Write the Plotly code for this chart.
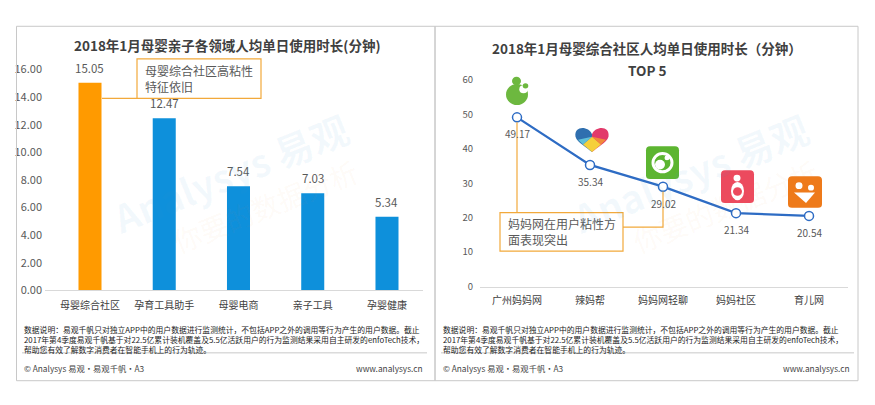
import plotly.graph_objects as go

W, H = 875, 405

# ---------------- data ----------------
left_title = "2018年1月母婴亲子各领域人均单日使用时长(分钟)"
left_categories = ["母婴综合社区", "孕育工具助手", "母婴电商", "亲子工具", "孕婴健康"]
left_values = [15.05, 12.47, 7.54, 7.03, 5.34]
left_yticks = [0, 2, 4, 6, 8, 10, 12, 14, 16]
left_note = "母婴综合社区高粘性<br>特征依旧"

right_title = "2018年1月母婴综合社区人均单日使用时长（分钟）"
right_subtitle = "TOP 5"
right_categories = ["广州妈妈网", "辣妈帮", "妈妈网轻聊", "妈妈社区", "育儿网"]
right_values = [49.17, 35.34, 29.02, 21.34, 20.54]
right_yticks = [0, 10, 20, 30, 40, 50, 60]
right_note = "妈妈网在用户粘性方<br>面表现突出"

footer_lines = [
    "数据说明：易观千帆只对独立APP中的用户数据进行监测统计，不包括APP之外的调用等行为产生的用户数据。截止",
    "2017年第4季度易观千帆基于对22.5亿累计装机覆盖及5.5亿活跃用户的行为监测结果采用自主研发的enfoTech技术，",
    "帮助您有效了解数字消费者在智能手机上的行为轨迹。",
]
footer_left = "© Analysys 易观·易观千帆·A3"
footer_right = "www.analysys.cn"

FONT = "Noto Sans CJK SC"
ORANGE = "#FF9A00"
BLUE = "#0E90DB"
LINE_BLUE = "#2E6CC4"
NOTE_ORANGE = "#F2A93B"
GRAY = "#595959"
DARK = "#404040"


def px(x):
    return x / W


def py(y):
    return 1 - y / H


fig = go.Figure()

bar_colors = [ORANGE] + [BLUE] * (len(left_values) - 1)
fig.add_trace(go.Bar(
    x=left_categories, y=left_values, marker=dict(color=bar_colors, line=dict(width=0)),
    width=0.31, xaxis="x", yaxis="y", showlegend=False, hoverinfo="skip",
))

fig.add_trace(go.Scatter(
    x=right_categories, y=right_values, mode="lines+markers",
    line=dict(color=LINE_BLUE, width=2.3),
    marker=dict(size=9, color="white", line=dict(color=LINE_BLUE, width=1.5)),
    xaxis="x2", yaxis="y2", showlegend=False, hoverinfo="skip",
))

annotations = []
shapes = []


def note(x, y, text, size, color, xa="center", ya="middle", **kw):
    d = dict(x=px(x), y=py(y), xref="paper", yref="paper", text=text, showarrow=False,
             xanchor=xa, yanchor=ya, font=dict(family=FONT, size=size, color=color))
    d.update(kw)
    annotations.append(d)


# bar value labels
for c, v in zip(left_categories, left_values):
    annotations.append(dict(x=c, y=v, xref="x", yref="y", text=f"{v:.2f}", showarrow=False,
                            xanchor="center", yanchor="bottom", yshift=5,
                            font=dict(family=FONT, size=11.5, color=GRAY)))
# line value labels
for c, v in zip(right_categories, right_values):
    annotations.append(dict(x=c, y=v, xref="x2", yref="y2", text=f"{v:.2f}", showarrow=False,
                            xanchor="center", yanchor="top", yshift=-7,
                            font=dict(family=FONT, size=10, color=GRAY)))

# titles
note(227, 37, f"<b>{left_title}</b>", 13.5, DARK)
note(647, 41, f"<b>{right_title}</b>", 13.5, DARK)
note(647, 63, f"<b>{right_subtitle}</b>", 13.5, DARK)

# notes
note(137, 72.5, left_note, 12, GRAY, xa="left", align="left", xshift=6)
note(500, 232, right_note, 12, GRAY, xa="left", align="left", xshift=6)

# footers (both panels)
for x0, x1 in [(22, 425), (441, 852)]:
    note(x0, 326, "<br>".join(footer_lines), 7.8, "#222222", xa="left", ya="top", align="left")
    note(x0, 374, footer_left, 8.3, "#444444", xa="left")
    note(x1, 374, footer_right, 8.3, "#444444", xa="right")
    shapes.append(dict(type="line", xref="paper", yref="paper", x0=px(x0), x1=px(x1 + 2),
                       y0=py(358), y1=py(358), line=dict(color="#C8C8C8", width=1)))

# watermarks
for cx in (230, 690):
    note(cx, 170, "<b>Analysys 易观</b>", 38, "rgba(60,150,210,0.06)", textangle=-22)
    note(cx + 35, 205, "你要的数据分析", 28, "rgba(240,140,60,0.05)", textangle=-22)

# panel borders
shapes.append(dict(type="rect", xref="paper", yref="paper", x0=px(16.5), x1=px(435), y0=py(387), y1=py(18),
                   line=dict(color="#C8C8C8", width=1)))
shapes.append(dict(type="rect", xref="paper", yref="paper", x0=px(435), x1=px(858), y0=py(387), y1=py(18),
                   line=dict(color="#C8C8C8", width=1)))

# note boxes and connectors
shapes.append(dict(type="rect", xref="paper", yref="paper", x0=px(137), x1=px(261), y0=py(93), y1=py(52),
                   line=dict(color=NOTE_ORANGE, width=1.2), fillcolor="white", layer="above"))
shapes.append(dict(type="line", xref="paper", yref="paper", x0=px(102), x1=px(137), y0=py(93), y1=py(93),
                   line=dict(color=NOTE_ORANGE, width=1.2)))
shapes.append(dict(type="line", xref="paper", yref="paper", x0=px(517), x1=px(517), y0=py(118), y1=py(212),
                   line=dict(color=NOTE_ORANGE, width=1.2)))
shapes.append(dict(type="path", xref="paper", yref="paper",
                   path=f"M {px(623)},{py(227)} L {px(663)},{py(227)} L {px(663)},{py(190)}",
                   line=dict(color=NOTE_ORANGE, width=1.2)))
shapes.append(dict(type="rect", xref="paper", yref="paper", x0=px(500), x1=px(623), y0=py(252), y1=py(212),
                   line=dict(color=NOTE_ORANGE, width=1.2), fillcolor="rgba(255,255,255,0)", layer="above"))


def circle(cx, cy, r, color):
    return dict(type="circle", xref="paper", yref="paper", x0=px(cx - r), x1=px(cx + r),
                y0=py(cy + r), y1=py(cy - r), fillcolor=color, line=dict(width=0), layer="above")


def rrect(x0, y0, x1, y1, r, color):
    p = (f"M {px(x0 + r)},{py(y0)} L {px(x1 - r)},{py(y0)} Q {px(x1)},{py(y0)} {px(x1)},{py(y0 + r)} "
         f"L {px(x1)},{py(y1 - r)} Q {px(x1)},{py(y1)} {px(x1 - r)},{py(y1)} "
         f"L {px(x0 + r)},{py(y1)} Q {px(x0)},{py(y1)} {px(x0)},{py(y1 - r)} "
         f"L {px(x0)},{py(y0 + r)} Q {px(x0)},{py(y0)} {px(x0 + r)},{py(y0)} Z")
    return dict(type="path", xref="paper", yref="paper", path=p, fillcolor=color,
                line=dict(width=0), layer="above")


# icon 1 (广州妈妈网)
GREEN = "#6DB83F"
shapes.append(circle(517, 89, 11, GREEN))
shapes.append(circle(523.5, 83.5, 4.2, "white"))
shapes.append(circle(516.5, 75, 4.5, GREEN))
shapes.append(circle(525.5, 80, 2.8, GREEN))


# icon 2 (辣妈帮) heart
def heart_half(cx, top, w, h, side, color):
    s = 1 if side == "r" else -1
    p = (f"M {px(cx)},{py(top + h * 0.28)} "
         f"C {px(cx + s * w * 0.1)},{py(top - h * 0.05)} {px(cx + s * w * 0.55)},{py(top - h * 0.08)} "
         f"{px(cx + s * w * 0.5)},{py(top + h * 0.38)} "
         f"C {px(cx + s * w * 0.45)},{py(top + h * 0.62)} {px(cx + s * w * 0.15)},{py(top + h * 0.8)} "
         f"{px(cx)},{py(top + h)} Z")
    return dict(type="path", xref="paper", yref="paper", path=p, fillcolor=color,
                line=dict(width=0), layer="above")


shapes.append(heart_half(592, 123, 33, 26, "l", "#2F6FAF"))
shapes.append(heart_half(592, 123, 33, 26, "r", "#E23A6B"))
shapes.append(dict(type="path", xref="paper", yref="paper",
                   path=f"M {px(592)},{py(133)} L {px(583)},{py(141)} L {px(592)},{py(149)} L {px(601)},{py(141)} Z",
                   fillcolor="#F5D03A", line=dict(width=0), layer="above"))
shapes.append(dict(type="path", xref="paper", yref="paper",
                   path=f"M {px(592)},{py(133)} L {px(578)},{py(136)} L {px(583)},{py(141)} Z",
                   fillcolor="#5FC0D8", line=dict(width=0), layer="above"))
shapes.append(dict(type="path", xref="paper", yref="paper",
                   path=f"M {px(592)},{py(133)} L {px(606)},{py(136)} L {px(601)},{py(141)} Z",
                   fillcolor="#F08A3A", line=dict(width=0), layer="above"))

# icon 3 (妈妈网轻聊)
shapes.append(rrect(646, 143, 679, 177, 4, "#5CB531"))
shapes.append(circle(662.5, 160, 11, "white"))
shapes.append(circle(662.5, 160, 8, "#5CB531"))
shapes.append(circle(660, 162, 5, "white"))
shapes.append(circle(667, 155, 2.5, "white"))

# icon 4 (妈妈社区)
shapes.append(rrect(721, 168, 754, 202, 4, "#EC4A5E"))
shapes.append(circle(737, 176, 3.5, "white"))
shapes.append(dict(type="circle", xref="paper", yref="paper", x0=px(731), x1=px(744), y0=py(199), y1=py(180),
                   fillcolor="white", line=dict(width=0), layer="above"))
shapes.append(circle(737.5, 190, 4.5, "#EC4A5E"))

# icon 5 (育儿网)
shapes.append(rrect(788, 174, 822, 207, 4, "#EE7A1A"))
shapes.append(circle(799, 184, 3.5, "white"))
shapes.append(circle(811, 186, 3, "white"))
shapes.append(dict(type="path", xref="paper", yref="paper",
                   path=f"M {px(794)},{py(191)} L {px(815)},{py(191)} L {px(806)},{py(202)} Z",
                   fillcolor="white", line=dict(width=0), layer="above"))

# ---------------- axes ----------------
fig.update_layout(
    width=W, height=H, margin=dict(l=0, r=0, t=0, b=0),
    paper_bgcolor="white", plot_bgcolor="rgba(0,0,0,0)",
    font=dict(family=FONT),
    xaxis=dict(domain=[px(45), px(423)], anchor="y", type="category", range=[-0.606, 4.485],
               showline=True, linecolor="#D9D9D9", linewidth=1, ticks="", showgrid=False, zeroline=False,
               tickfont=dict(family=FONT, size=10, color=DARK), ticklabelstandoff=6, fixedrange=True),
    yaxis=dict(domain=[py(293), py(63)], anchor="x", range=[0, 16], tickvals=left_yticks,
               tickformat=".2f", showgrid=False, zeroline=False, showline=False, ticks="",
               tickfont=dict(family=FONT, size=11, color=GRAY), ticklabelstandoff=2, fixedrange=True),
    xaxis2=dict(domain=[px(480), px(848)], anchor="y2", type="category", range=[-0.507, 4.534],
                showline=True, linecolor="#D9D9D9", linewidth=1, ticks="", showgrid=False, zeroline=False,
                tickfont=dict(family=FONT, size=10, color=DARK), ticklabelstandoff=4, fixedrange=True),
    yaxis2=dict(domain=[py(289), py(74)], anchor="x2", range=[0, 60], tickvals=right_yticks,
                showgrid=False, zeroline=False, showline=False, ticks="",
                tickfont=dict(family=FONT, size=9.5, color=GRAY), ticklabelstandoff=6, fixedrange=True),
    annotations=annotations,
    shapes=shapes,
)

fig.write_html("out.html", config={"displayModeBar": False},
               post_script="document.body.style.margin='0';document.body.style.overflow='hidden';")
